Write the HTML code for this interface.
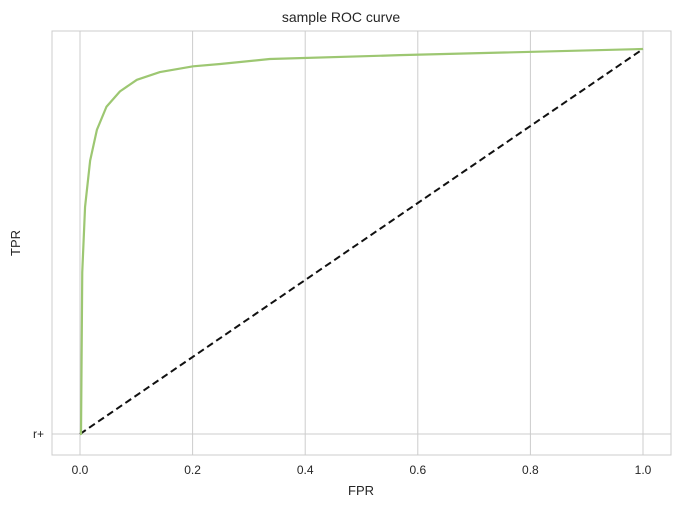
<!DOCTYPE html>
<html><head><meta charset="utf-8"><style>
body{margin:0;background:#fff;font-family:"Liberation Sans",sans-serif}
svg text{font-family:"Liberation Sans",sans-serif;fill:#262626}
</style></head><body>
<svg width="682" height="507" id="chart">
<rect x="52" y="31" width="619" height="424" fill="#fff" stroke="#ccc" stroke-width="1"/>
<g id="grid"></g>
<g id="series"></g>
<g id="ticks"></g>
<text x="341" y="22" text-anchor="middle" font-size="14">sample ROC curve</text>
<text x="361" y="495" text-anchor="middle" font-size="13">FPR</text>
<text x="20" y="243" text-anchor="middle" font-size="13" transform="rotate(-90 20 243)">TPR</text>
</svg>
<script>
const xTicks=[0,0.2,0.4,0.6,0.8,1.0];
const xTickLabels=["0.0","0.2","0.4","0.6","0.8","1.0"];
const yTicks=[0];
const yTickLabels=["r+"];
const fpr=[0,0.0018,0.004,0.009,0.018,0.030,0.047,0.071,0.101,0.142,0.201,0.249,0.337,0.568,1];
const tpr=[0,0,0.42,0.59,0.71,0.79,0.85,0.89,0.92,0.94,0.955,0.961,0.974,0.984,1];
const diagX=[0,1];
const diagY=[0,1];
const sx=v=>80+v*563;
const sy=v=>434-v*385;
const NS="http://www.w3.org/2000/svg";
const grid=document.getElementById('grid'),ticks=document.getElementById('ticks'),ser=document.getElementById('series');
xTicks.forEach((t,i)=>{
 const l=document.createElementNS(NS,'line');
 
 
 l.setAttribute('x1',sx(t));l.setAttribute('x2',sx(t));l.setAttribute('y1',31);l.setAttribute('y2',455);
 l.setAttribute('stroke','#ccc');grid.appendChild(l);
 const tx=document.createElementNS(NS,'text');
 
 
 tx.setAttribute('x',sx(t));tx.setAttribute('y',474);tx.setAttribute('text-anchor','middle');tx.setAttribute('font-size','12');
 tx.textContent=xTickLabels[i];ticks.appendChild(tx);
});
yTicks.forEach((t,i)=>{
 const l=document.createElementNS(NS,'line');
 
 
 l.setAttribute('x1',52);l.setAttribute('x2',671);l.setAttribute('y1',sy(t));l.setAttribute('y2',sy(t));
 l.setAttribute('stroke','#ccc');grid.appendChild(l);
 const tx=document.createElementNS(NS,'text');
 
 
 tx.setAttribute('x',44);tx.setAttribute('y',sy(t)+4);tx.setAttribute('text-anchor','end');tx.setAttribute('font-size','12');
 tx.textContent=yTickLabels[i];ticks.appendChild(tx);
});
const d=document.createElementNS(NS,'polyline');


d.setAttribute('points',diagX.map((v,i)=>sx(v)+','+sy(diagY[i])).join(' '));
d.setAttribute('fill','none');d.setAttribute('stroke','#111');d.setAttribute('stroke-width','2');d.setAttribute('stroke-dasharray','7,4');
ser.appendChild(d);
const c=document.createElementNS(NS,'polyline');


c.setAttribute('points',fpr.map((v,i)=>sx(v)+','+sy(tpr[i])).join(' '));
c.setAttribute('fill','none');c.setAttribute('stroke','#9dc772');c.setAttribute('stroke-width','2.2');c.setAttribute('stroke-linejoin','round');
ser.appendChild(c);
</script>
</body></html>
